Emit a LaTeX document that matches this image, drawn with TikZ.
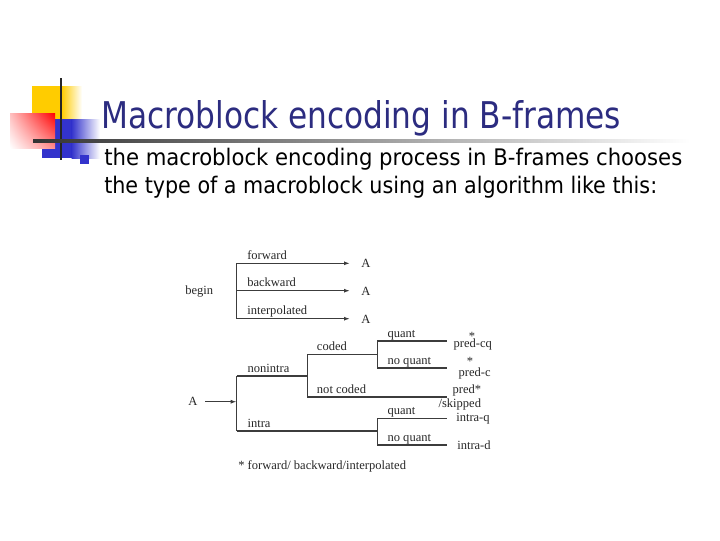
\documentclass[tikz,border=0pt]{standalone}
\usepackage{fontspec}
\usepackage{graphicx}
\setmainfont{Liberation Serif}
\newfontfamily\tah{DejaVu Sans Condensed}
\usetikzlibrary{arrows.meta,shadings}
\definecolor{navy}{RGB}{44,44,128}
\definecolor{lyel}{RGB}{255,204,0}
\definecolor{lblue}{RGB}{51,51,204}
\definecolor{lnk}{RGB}{60,60,60}
\tikzset{
  lbl/.style={anchor=base west,inner sep=0pt,font=\fontsize{9.4}{11}\selectfont,text=black!85},
  br/.style={draw=lnk,line width=1pt},
  arr/.style={br,-{Latex[length=4.5pt,width=3pt]}},
}
\begin{document}
\begin{tikzpicture}[x=0.75pt,y=-0.75pt]
\useasboundingbox (0,0) rectangle (720,540);
% logo
\fill[lyel] (32,86) rectangle (62,119);
\shade[left color=lyel,right color=white] (61.5,86) rectangle (82,119);
\fill[lblue] (42,119) rectangle (72,158);
\shade[left color=lblue,right color=white] (71.5,119) rectangle (100,158);
\shade[upper left=red!25,upper right=red,lower left=white,lower right=red!45] (10,113) rectangle (55,148);
\fill[lblue] (80,155) rectangle (89,164);
\draw[line width=2.2pt,black!85] (61,78) -- (61,160);
\shade[left color=black!80,right color=white] (33,139.5) rectangle (690,142.5);
% title and text
\node[anchor=base west,inner sep=0pt,text=navy] (title) at (101,128)
  {\resizebox{390pt}{21pt}{\tah Macroblock encoding in B-frames}};
\node[anchor=base west,inner sep=0pt] (l1) at (104,165)
  {\resizebox{433.5pt}{13pt}{\tah the macroblock encoding process in B-frames chooses}};
\node[anchor=base west,inner sep=0pt] (l2) at (104,193)
  {\resizebox{414.75pt}{13pt}{\tah the type of a macroblock using an algorithm like this:}};
% upper tree
\coordinate (t1) at (236.5,263.3);
\coordinate (t2) at (236.5,290.7);
\coordinate (t3) at (236.5,318.7);
\coordinate (e1) at (350,263.3);
\coordinate (e2) at (350,290.7);
\coordinate (e3) at (350,318.7);
\draw[br] (t1) -- (t3);
\draw[arr] (t1) -- (e1);
\draw[arr] (t2) -- (e2);
\draw[arr] (t3) -- (e3);
\node[lbl] (begin) at (185,294) {begin};
\node[lbl] (fw) at (247,259.3) {forward};
\node[lbl] (bw) at (247,286.7) {backward};
\node[lbl] (ip) at (247,314.7) {interpolated};
\node[lbl] (a1) at (361,267.5) {A};
\node[lbl] (a2) at (361,295) {A};
\node[lbl] (a3) at (361,323) {A};
% lower tree
\node[lbl] (a0) at (188,405) {A};
\coordinate (s0) at (205,401.7);
\coordinate (s1) at (236.7,401.7);
\draw[arr] (s0) -- (s1);
\coordinate (v1t) at (236.7,376);
\coordinate (v1b) at (236.7,431);
\coordinate (v2t) at (307.3,354.5);
\coordinate (v2m) at (307.3,376);
\coordinate (v2b) at (307.3,397);
\coordinate (v3t) at (377.3,341);
\coordinate (v3m) at (377.3,354.5);
\coordinate (v3b) at (377.3,368);
\coordinate (v4t) at (377.3,418.3);
\coordinate (v4m) at (377.3,431);
\coordinate (v4b) at (377.3,445);
\coordinate (r1) at (447,341);
\coordinate (r2) at (447,368);
\coordinate (r3) at (447,397);
\coordinate (r4) at (447,418.3);
\coordinate (r5) at (447,445);
\draw[br] (v1t) -- (v1b);
\draw[br] (v1t) -- (v2m);
\draw[br] (v2t) -- (v2b);
\draw[br] (v2t) -- (v3m);
\draw[br] (v2b) -- (r3);
\draw[br] (v3t) -- (v3b);
\draw[br] (v3t) -- (r1);
\draw[br] (v3b) -- (r2);
\draw[br] (v1b) -- (v4m);
\draw[br] (v4t) -- (v4b);
\draw[br] (v4t) -- (r4);
\draw[br] (v4b) -- (r5);
\node[lbl] (ni) at (247.3,372) {nonintra};
\node[lbl] (in) at (247.3,427) {intra};
\node[lbl] (cd) at (316.7,350.5) {coded};
\node[lbl] (nc) at (316.7,393) {not coded};
\node[lbl] (q1) at (387.3,337) {quant};
\node[lbl] (nq1) at (387.3,364) {no quant};
\node[lbl] (q2) at (387.3,414.3) {quant};
\node[lbl] (nq2) at (387.3,441) {no quant};
\node[lbl] (pcq) at (453.3,347) {pred-cq};
\node[lbl,anchor=center] (st1) at (472,336.5) {*};
\node[lbl] (pc) at (458.3,376) {pred-c};
\node[lbl,anchor=center] (st2) at (470,361) {*};
\node[lbl] (ps) at (452.3,393.5) {pred*};
\node[lbl] (sk) at (438.3,407) {/skipped};
\node[lbl] (iq) at (456,421) {intra-q};
\node[lbl] (id) at (457,449) {intra-d};
\node[lbl] (foot) at (238,469) {* forward/ backward/interpolated};
\end{tikzpicture}
\end{document}
